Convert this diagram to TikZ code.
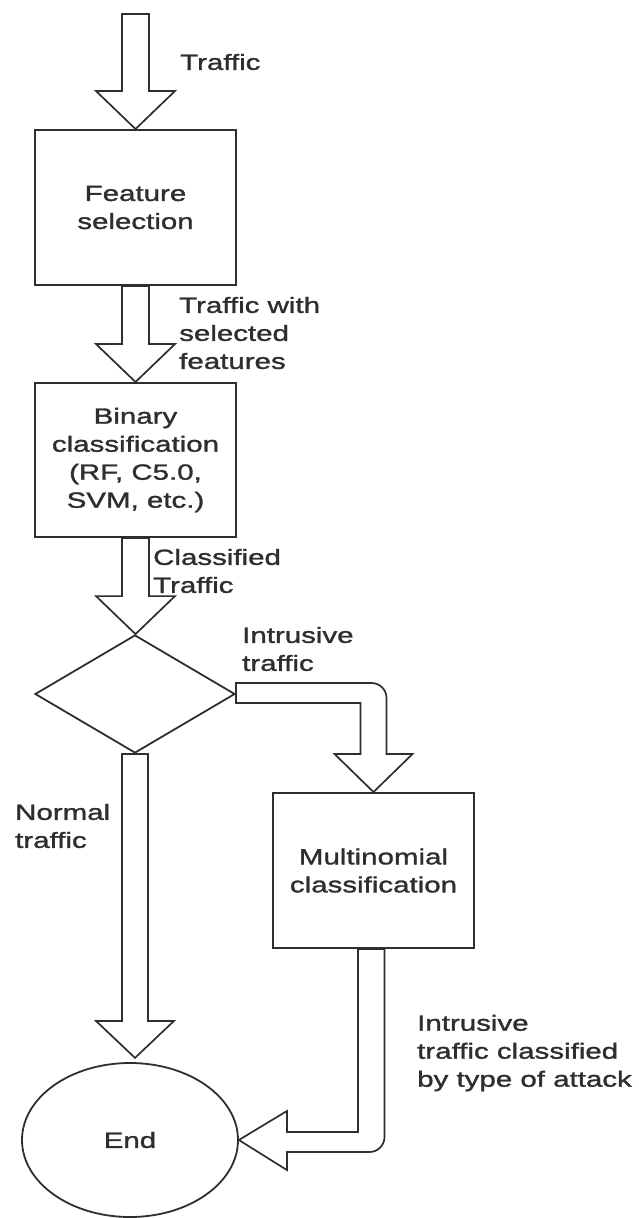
\documentclass[tikz,border=0pt]{standalone}
\usepackage{fontspec}
\setmainfont{Liberation Sans}[FakeStretch=1.34,FakeBold=1.4]
\usetikzlibrary{shapes.geometric,calc}

\definecolor{ink}{HTML}{2E2E2E}

\tikzset{
  box/.style={draw=ink, line width=2pt, rectangle, minimum width=201pt, minimum height=155pt,
              inner sep=0pt, align=center, text=ink},
  decision/.style={draw=ink, line width=1.8pt, diamond, minimum width=200pt, minimum height=118pt,
              inner sep=0pt},
  terminal/.style={draw=ink, line width=1.8pt, ellipse, minimum width=216pt, minimum height=154pt,
              inner sep=0pt, text=ink},
  lbl/.style={anchor=west, align=left, inner sep=0pt, text=ink},
  blk/.style={draw=ink, line width=1.7pt, fill=white, line join=miter},
}

% block arrow pointing down from #1 to #2
\newcommand\blockdown[2]{%
  \draw[blk] let \p1=(#1), \p2=(#2) in
    (\x1-13.5pt,\y1) -- (\x1-13.5pt,\y2+38pt) -- (\x1-39.5pt,\y2+38pt) -- (\x1,\y2)
    -- (\x1+39.5pt,\y2+38pt) -- (\x1+13.5pt,\y2+38pt) -- (\x1+13.5pt,\y1) -- cycle;}

\begin{document}
\begin{tikzpicture}[x=1pt,y=-1pt,font=\fontsize{22}{28}\selectfont]
\useasboundingbox (0,0) rectangle (639,1218);

% process steps
\node[box] (feat) at (135.5,207.5) {Feature\\selection};
\node[box, minimum height=154pt] (bin) at (135.5,460) {Binary\\classification\\(RF, C5.0,\\SVM, etc.)};
\node[decision] (dec) at (135,694) {};
\node[box] (multi) at (373.5,870.5) {Multinomial\\classification};
\node[terminal] (end) at (130,1140) {End};
\coordinate (src) at (135.5,14);

% straight block arrows
\blockdown{src}{feat.north}
\blockdown{feat.south}{bin.north}
\blockdown{bin.south}{dec.north}
\draw[blk] let \p1=(dec.south), \p2=(end.north) in
    (\x1-13pt,\y1) -- (\x1-13pt,\y1-267pt) -- (\x1-39pt,\y1-267pt) -- (\x1,\y1-304pt)
    -- (\x1+39pt,\y1-267pt) -- (\x1+13pt,\y1-267pt) -- (\x1+13pt,\y1) -- cycle;

% bent block arrow: decision -> multinomial step
\draw[blk] let \p1=(dec.east), \p2=(multi.north) in
    (\x1,\y1+11pt) -- (\x2-2pt,\y1+11pt)
    .. controls (\x2+6.3pt,\y1+11pt) and (\x2+13pt,\y1+4.3pt) .. (\x2+13pt,\y1-4pt)
    -- (\x2+13pt,\y2+38pt) -- (\x2+39pt,\y2+38pt) -- (\x2,\y2)
    -- (\x2-39pt,\y2+38pt) -- (\x2-13pt,\y2+38pt) -- (\x2-13pt,\y1-9pt)
    -- (\x1,\y1-9pt) -- cycle;

% bent block arrow: multinomial step -> end
\draw[blk] let \p1=(multi.south), \p2=(end.east) in
    (\x1-15.5pt,\y1) -- (\x1-15.5pt,\y2+8pt) -- (\x2+48pt,\y2+8pt) -- (\x2+48pt,\y2+29pt)
    -- (\x2,\y2) -- (\x2+48pt,\y2-30pt) -- (\x2+48pt,\y2-12pt)
    -- (\x1-4pt,\y2-12pt)
    .. controls (\x1+4.3pt,\y2-12pt) and (\x1+11pt,\y2-5.3pt) .. (\x1+11pt,\y2+3pt)
    -- (\x1+11pt,\y1) -- cycle;

% labels
\node[lbl] (l1) at (180,62) {Traffic};
\node[lbl] (l2) at (179,333) {Traffic with\\selected\\features};
\node[lbl] (l3) at (153,571) {Classified\\Traffic};
\node[lbl] (l4) at (242,649) {Intrusive\\traffic};
\node[lbl] (l5) at (15,826) {Normal\\traffic};
\node[lbl] (l6) at (417,1053) {Intrusive\\traffic classified\\by type of attack};
\end{tikzpicture}
\end{document}
